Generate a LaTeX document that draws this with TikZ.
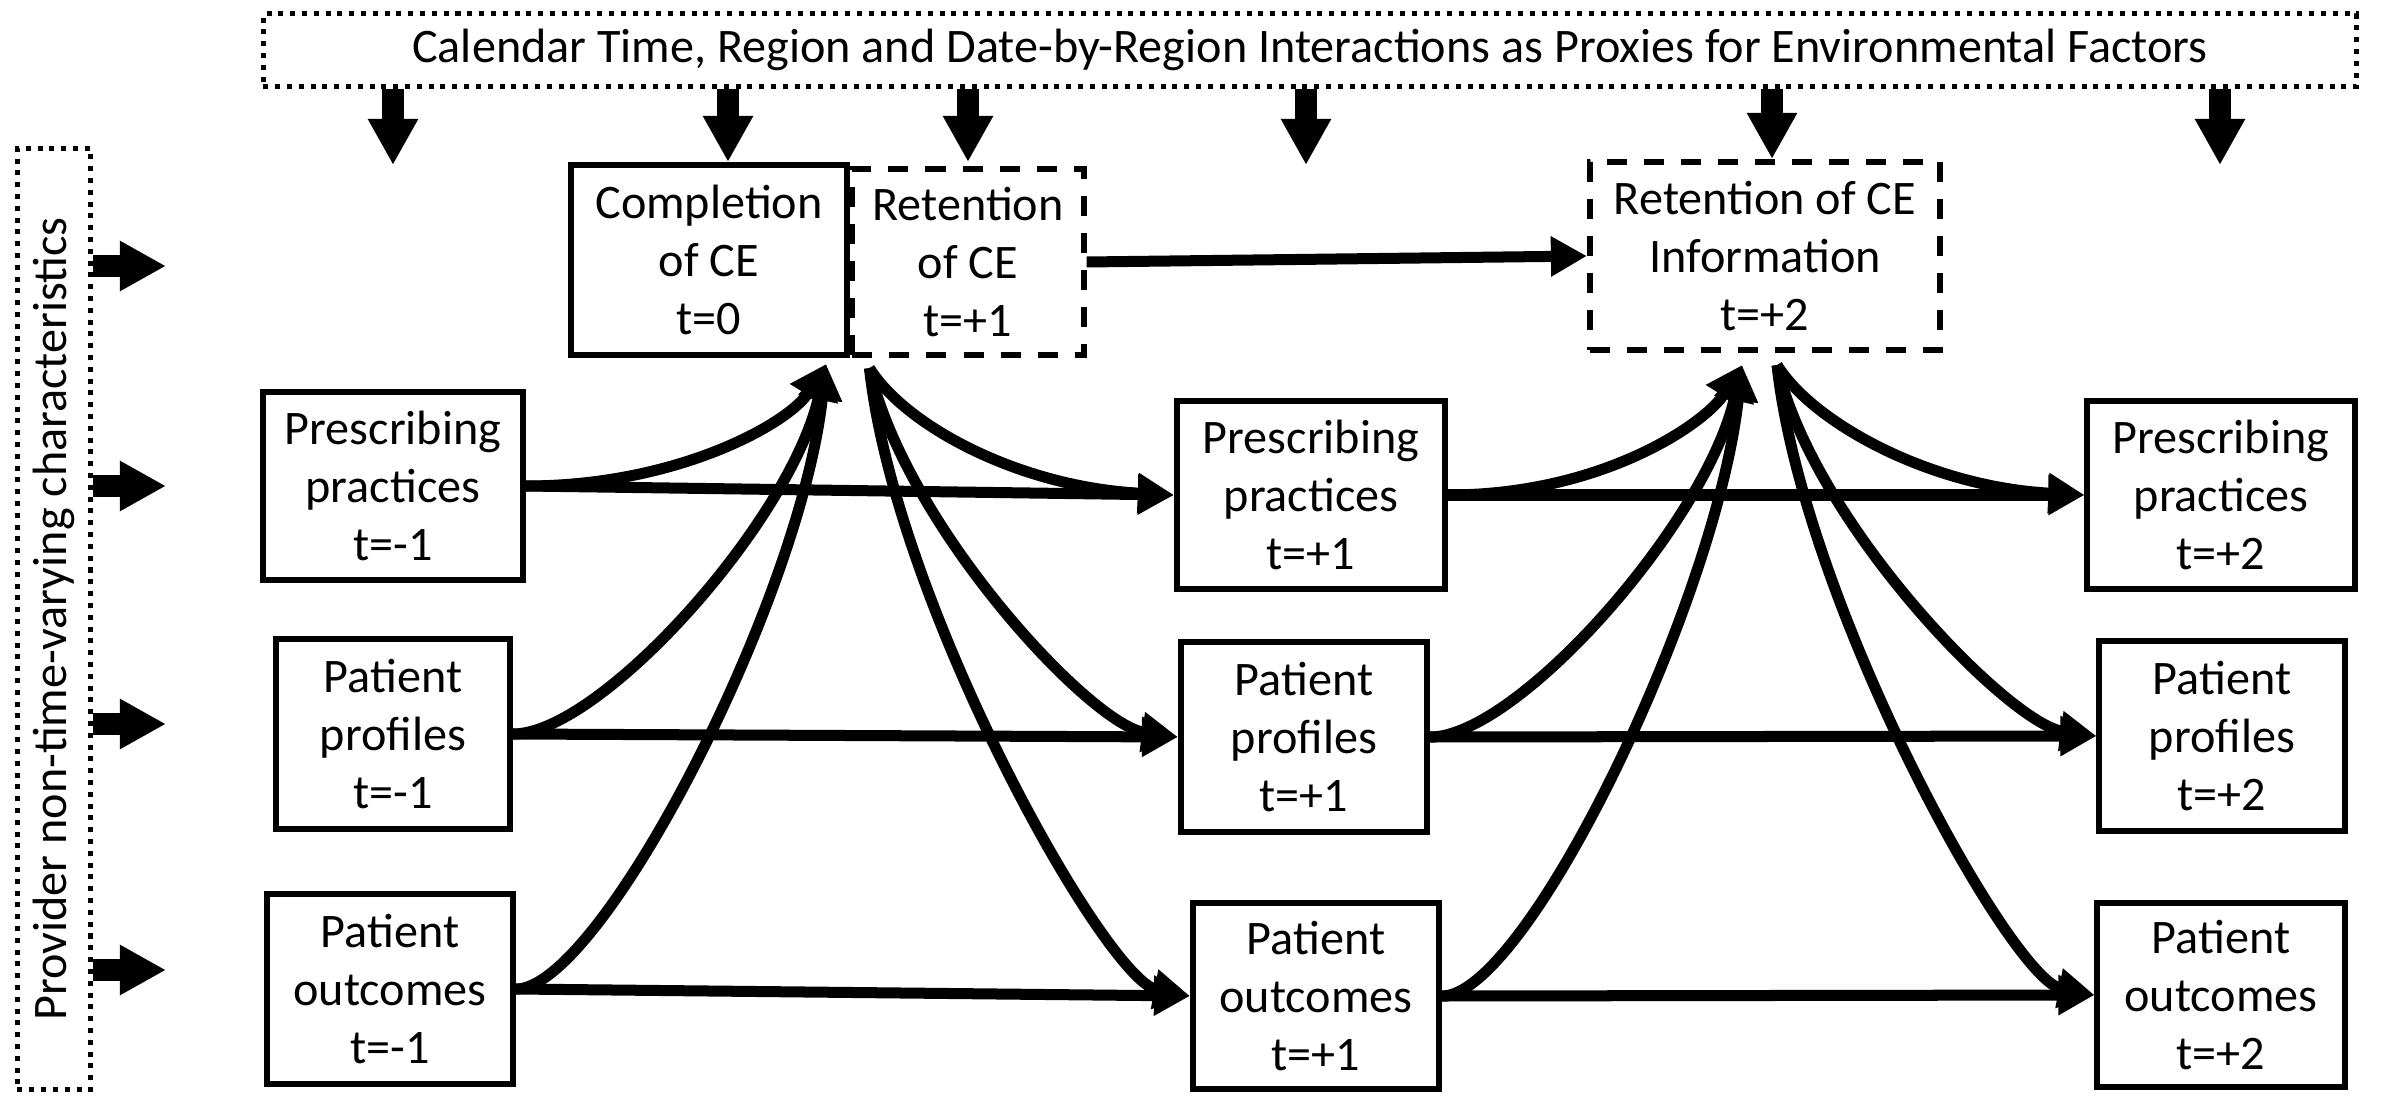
\documentclass[tikz,border=0pt]{standalone}
\usepackage{fontspec}
\setmainfont{Carlito}
\usepackage{graphicx}
\usepackage{tikz}
\usetikzlibrary{positioning, arrows.meta}
\tikzset{
	>={Triangle[length=0.36cm, width=0.38cm]}, % heads of the thin arrows
	box/.style={draw, line width=0.06cm, inner sep=2pt, align=center, font=\fontsize{13.7}{16.6}\selectfont}, % every time box
	dashbox/.style={box, dash pattern=on 0.2cm off 0.17cm}, % the retention boxes
	dotbox/.style={draw, line width=0.05cm, dash pattern=on 0.05cm off 0.068cm, inner sep=0pt, font=\fontsize{13.7}{16.6}\selectfont}, % the two outer factors
	link/.style={->, line width=0.11cm}, % arrows between boxes
	bigarrow/.style={line width=0.22cm, -{Triangle[length=0.46cm, width=0.47cm]}}, % fat arrows from the outer factors
}

\begin{document}
\begin{tikzpicture}[x=0.01cm, y=-0.01cm] % one unit is one pixel, y runs down
	\useasboundingbox (0,0) rectangle (2384,1097);
	% outer factors
	\node[dotbox, minimum width=20.92cm, minimum height=0.72cm] (env) at (1310,50) {Calendar Time, Region and Date-by-Region Interactions as Proxies for Environmental Factors};
	\node[dotbox, minimum width=0.73cm, minimum height=9.41cm] (prov) at (54,619) {\rotatebox{90}{Provider non-time-varying characteristics}};
	% top row
	\node[box, minimum width=2.76cm, minimum height=1.90cm] (comp) at (709,260) {Completion\\of CE\\t=0};
	\node[dashbox, minimum width=2.31cm, minimum height=1.86cm] (ra) at (968,262) {Retention\\of CE\\t=+1};
	\node[dashbox, minimum width=3.50cm, minimum height=1.88cm] (rb) at (1765,256) {Retention of CE\\Information\\t=+2};
	% t=-1
	\node[box, minimum width=2.59cm, minimum height=1.88cm] (pa) at (393,486) {Prescribing\\practices\\t=-1};
	\node[box, minimum width=2.34cm, minimum height=1.90cm] (fa) at (393,734) {Patient\\profiles\\t=-1};
	\node[box, minimum width=2.46cm, minimum height=1.90cm] (oa) at (390,989) {Patient\\outcomes\\t=-1};
	% t=+1
	\node[box, minimum width=2.68cm, minimum height=1.88cm] (pb) at (1311,495) {Prescribing\\practices\\t=+1};
	\node[box, minimum width=2.46cm, minimum height=1.89cm] (fb) at (1304,737) {Patient\\profiles\\t=+1};
	\node[box, minimum width=2.46cm, minimum height=1.86cm] (ob) at (1316,996) {Patient\\outcomes\\t=+1};
	% t=+2
	\node[box, minimum width=2.67cm, minimum height=1.88cm] (pc) at (2221,495) {Prescribing\\practices\\t=+2};
	\node[box, minimum width=2.45cm, minimum height=1.90cm] (fc) at (2222,736) {Patient\\profiles\\t=+2};
	\node[box, minimum width=2.47cm, minimum height=1.84cm] (oc) at (2221,995) {Patient\\outcomes\\t=+2};

	% ends of the fat arrows
	\coordinate (t1) at (393,165);
	\coordinate (t2) at (728,162);
	\coordinate (t3) at (968,162);
	\coordinate (t4) at (1306,165);
	\coordinate (t5) at (1772,159);
	\coordinate (t6) at (2220,165);
	\coordinate (s1) at (166,266);
	\coordinate (s2) at (166,486);
	\coordinate (s3) at (166,724);
	\coordinate (s4) at (166,970);
	\foreach \i in {1,...,6} \draw[bigarrow] (env.south -| t\i) -- (t\i);
	\foreach \i in {1,...,4} \draw[bigarrow] (prov.east |- s\i) -- (s\i);

	% where the curves meet the retention boxes
	\coordinate (cin) at ([xshift=-0.24cm, yshift=-0.06cm]comp.south east);
	\coordinate (cout) at ([xshift=0.2cm, yshift=-0.1cm]ra.south west);
	\coordinate (rin) at ([xshift=-0.23cm, yshift=-0.12cm]rb.south);
	\coordinate (rout) at ([xshift=0.12cm, yshift=-0.12cm]rb.south);

	\foreach \a/\b in {ra/rb, pa/pb, fa/fb, oa/ob, pb/pc, fb/fc, ob/oc}
		\draw[link] (\a.east) -- (\b.west);

	\draw[link] (pa.east) .. controls +(154,0) and +(-36,58) .. (cin);
	\draw[link] (fa.east) .. controls +(87,0) and +(-36,158) .. (cin);
	\draw[link] (oa.east) .. controls +(84,0) and +(-26,238) .. (cin);
	\draw[link] (cout) .. controls +(36,58) and +(-154,-8) .. (pb.west);
	\draw[link] (cout) .. controls +(36,158) and +(-87,-12) .. (fb.west);
	\draw[link] (cout) .. controls +(26,238) and +(-84,-16) .. (ob.west);

	\draw[link] (pb.east) .. controls +(154,0) and +(-36,58) .. (rin);
	\draw[link] (fb.east) .. controls +(87,0) and +(-36,158) .. (rin);
	\draw[link] (ob.east) .. controls +(84,0) and +(-26,238) .. (rin);
	\draw[link] (rout) .. controls +(36,58) and +(-154,-8) .. (pc.west);
	\draw[link] (rout) .. controls +(36,158) and +(-87,-12) .. (fc.west);
	\draw[link] (rout) .. controls +(26,238) and +(-84,-16) .. (oc.west);
\end{tikzpicture}
\end{document}
